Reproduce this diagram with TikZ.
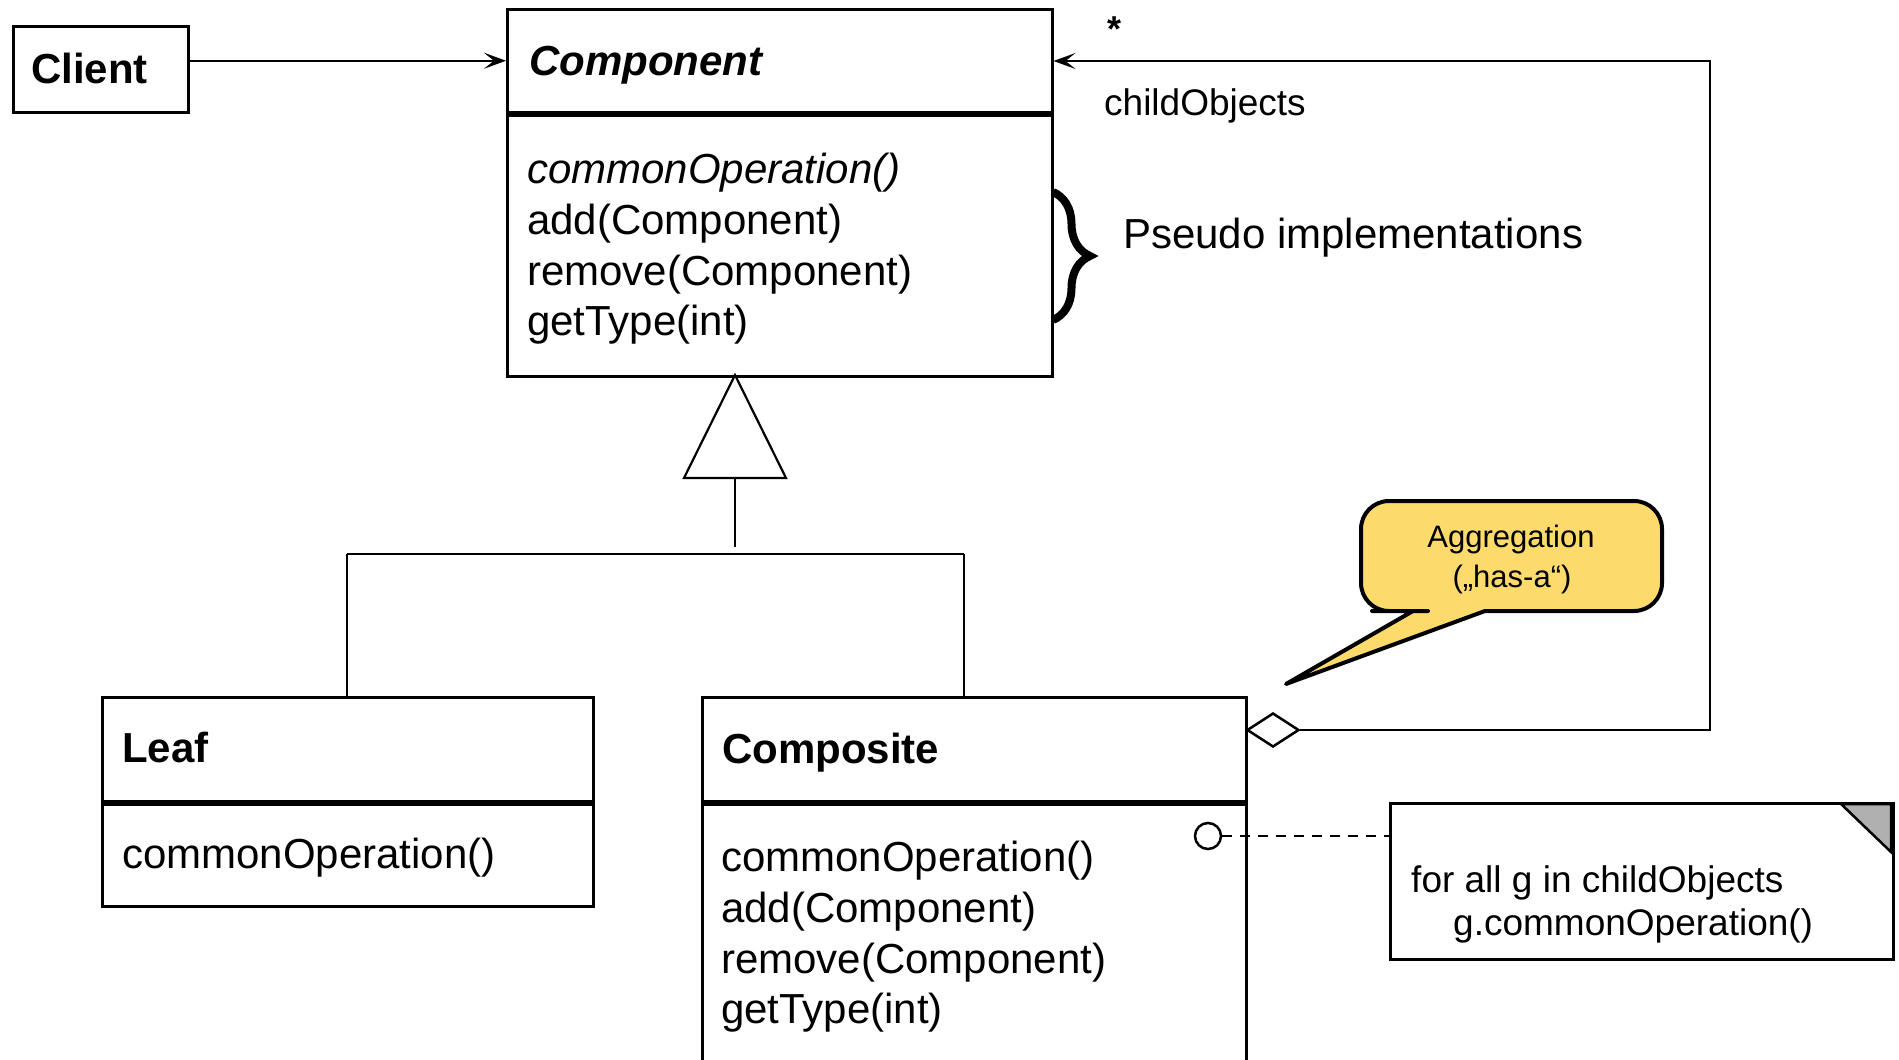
\documentclass[tikz,border=0pt]{standalone}
\usepackage{fontspec}
\setmainfont{Liberation Sans}
\usetikzlibrary{arrows.meta,shapes.geometric,decorations.pathreplacing}
\definecolor{bubbleyellow}{RGB}{252,219,108}
\definecolor{foldgray}{RGB}{176,176,176}
\begin{document}
\begin{tikzpicture}[x=1pt,y=-1pt,
  box/.style={draw, line width=2.5pt, inner sep=0pt, anchor=north west},
  big/.style={font=\fontsize{42}{51}\selectfont, inner sep=0pt, anchor=base west},
  bigbold/.style={font=\fontsize{42}{51}\selectfont\bfseries, inner sep=0pt, anchor=base west},
  mid/.style={font=\fontsize{37}{44}\selectfont, inner sep=0pt, anchor=base west},
  small/.style={font=\fontsize{31}{38}\selectfont, inner sep=0pt, anchor=base},
  conn/.style={line width=2.2pt},
  arr/.style={conn, -{Stealth[length=22pt,width=16pt,inset=10pt]}},
]
\useasboundingbox (0,0) rectangle (1899,1060);
\clip (0,0) rectangle (1899,1060);

% Client
\node[box, minimum width=175pt, minimum height=86pt] (client) at (12,25) {};
\node[bigbold] (clienttxt) at (31,83) {Client};

% Component
\node[box, minimum width=545pt, minimum height=103pt] (comphead) at (506,8) {};
\node[box, minimum width=545pt, minimum height=261pt] (compbody) at (506,114) {};
\node[bigbold] (comptitle) at (529,75) {\itshape Component};
\node[big] (c1) at (527,183) {\itshape commonOperation()};
\node[big] (c2) at (527,234) {add(Component)};
\node[big] (c3) at (527,285) {remove(Component)};
\node[big] (c4) at (527,335) {getType(int)};

% Brace and note
\draw[line width=8pt, decorate, decoration={brace, amplitude=37pt}] (1053,192) -- (1053,320);
\node[big] (pseudo) at (1123,248) {Pseudo implementations};

% Leaf
\node[box, minimum width=491pt, minimum height=104pt] (leafhead) at (101,696) {};
\node[box, minimum width=491pt, minimum height=102pt] (leafbody) at (101,803) {};
\node[bigbold] (leaftitle) at (122,762) {Leaf};
\node[big] (l1) at (122,868) {commonOperation()};

% Composite
\node[box, minimum width=544pt, minimum height=104pt] (cmphead) at (701,696) {};
\node[box, minimum width=544pt, minimum height=320pt] (cmpbody) at (701,803) {};
\node[bigbold] (cmptitle) at (722,763) {Composite};
\node[big] (k1) at (721,871) {commonOperation()};
\node[big] (k2) at (721,922) {add(Component)};
\node[big] (k3) at (721,973) {remove(Component)};
\node[big] (k4) at (721,1023) {getType(int)};

% Client -> Component
\draw[arr] (client.east |- comphead.west) -- (comphead.west);

% Generalization
\coordinate (apex) at (735,375);
\coordinate (tribase) at (735,478);
\coordinate (stem) at (735,547);
\coordinate (jl) at (347,554);
\coordinate (jr) at (964,554);
\draw[conn, line join=miter] (apex) -- (786,478) -- (684,478) -- cycle;
\draw[conn] (tribase) -- (stem);
\draw[conn] (jl) -- (jr);
\draw[conn] (jl) -- (jl |- leafhead.north);
\draw[conn] (jr) -- (jr |- cmphead.north);

% Aggregation
\node[diamond, draw, line width=2.5pt, inner sep=0pt, minimum width=52pt, minimum height=34pt, fill=white] (dia) at (1273,730) {};
\coordinate (aggcorner) at (1710,61);
\draw[arr] (dia.east) -| (aggcorner) -- (comphead.east |- aggcorner);
\node[font=\fontsize{36}{40}\selectfont\bfseries, inner sep=0pt, anchor=base west] (star) at (1107,41) {*};
\node[mid] (childobj) at (1104,115) {childObjects};

% Speech bubble
\draw[line width=4pt, fill=bubbleyellow, line join=round]
  (1413,611) -- (1286,684) -- (1485,611) -- (1600,611)
  [rounded corners=28pt] -- (1662,611) -- (1662,501) -- (1361,501) -- (1361,611) -- (1400,611)
  [sharp corners] -- cycle;
\node[small] (agg1) at (1511,547) {Aggregation};
\node[small] (agg2) at (1512,587) {(„has-a“)};

% Note
\node[box, minimum width=503pt, minimum height=156pt] (note) at (1389,802) {};
\draw[line width=2.5pt, fill=foldgray, line join=miter] (1841,804) -- (1891,804) -- (1891,852) -- cycle;
\node[mid] (n1) at (1411,892) {for all g in childObjects};
\node[mid] (n2) at (1453,935) {g.commonOperation()};
\node[circle, draw, line width=2.5pt, inner sep=0pt, minimum size=26pt] (circ) at (1208,836) {};
\draw[conn, dash pattern=on 10pt off 8pt] (circ.east) -- (note.west |- circ.east);
\end{tikzpicture}
\end{document}
